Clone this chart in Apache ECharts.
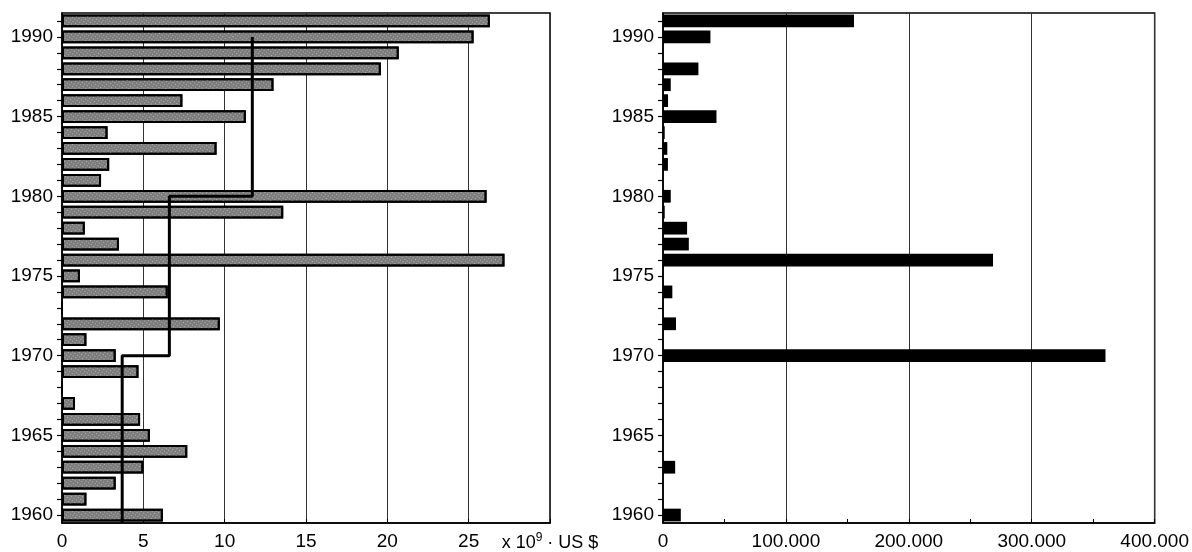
<!DOCTYPE html>
<html>
<head>
<meta charset="utf-8">
<script src="https://cdn.jsdelivr.net/npm/echarts@6/dist/echarts.min.js"></script>
<style>
html,body{margin:0;padding:0;background:#fff;}
#c{width:1192px;height:552px;}
</style>
</head>
<body>
<div id="c"></div>
<script>
// ---- data ----
var years = ['1960','1961','1962','1963','1964','1965','1966','1967','1968','1969',
             '1970','1971','1972','1973','1974','1975','1976','1977','1978','1979',
             '1980','1981','1982','1983','1984','1985','1986','1987','1988','1989',
             '1990','1991'];
// left panel: x 10^9 US $
var leftValues = [6.2,1.5,3.3,5.0,7.7,5.4,4.8,0.8,0,4.7,
                  3.3,1.5,9.7,0,6.5,1.1,27.2,3.5,1.4,13.6,
                  26.1,2.4,2.9,9.5,2.8,11.3,7.4,13.0,19.6,20.7,
                  25.3,26.3];
// decade step line (left panel)
var decadeStart = [1959.5, 1970, 1980];
var decadeEnd   = [1970, 1980, 1990];
var decadeLevel = [3.7, 6.6, 11.7];
// right panel
var rightValues = [14500,0,0,9900,0,0,0,0,0,0,
                   360000,0,10600,0,7600,0,268500,21000,19600,1400,
                   6300,0,4000,3500,1400,43500,4100,6300,28800,0,
                   38600,155400];
var leftTicks = [0,5,10,15,20,25,30];
var rightTicks = [0,100000,200000,300000,400000];

// ---- build ----
var stepData = [];
for (var i = 0; i < decadeLevel.length; i++) {
  stepData.push([decadeLevel[i], decadeStart[i]]);
  stepData.push([decadeLevel[i], decadeEnd[i]]);
}

var FONT = 'Liberation Sans, Arial, sans-serif';
var FS = 19;
var txt = {color:'#000', fontFamily: FONT, fontSize: FS};

function yCat(gridIndex) {
  return {
    type: 'category', gridIndex: gridIndex, data: years, boundaryGap: true,
    axisLine: {show: true, lineStyle: {color: '#000', width: 1.5}},
    axisTick: {show: true, interval: 0, alignWithLabel: true, length: 5, lineStyle: {color: '#000', width: 1.2}},
    axisLabel: Object.assign({
      margin: 9,
      interval: function (idx, val) { return (+val) % 5 === 0; }
    }, txt),
    splitLine: {show: false}
  };
}

var option = {
  animation: false,
  backgroundColor: '#fff',
  grid: [
    {left: 62, top: 13, width: 488, height: 510, show: true, borderColor: '#000', borderWidth: 1.5, backgroundColor: 'transparent'},
    {left: 663, top: 13, width: 492, height: 510, show: true, borderColor: '#000', borderWidth: 1.5, backgroundColor: 'transparent'}
  ],
  xAxis: [
    {
      type: 'value', gridIndex: 0, min: leftTicks[0], max: leftTicks[leftTicks.length-1], interval: 5,
      axisLine: {show: true, lineStyle: {color: '#000', width: 1.5}},
      axisTick: {show: true, inside: true, length: 4, lineStyle: {color: '#000'}},
      splitLine: {show: true, lineStyle: {color: '#333', width: 1}},
      axisLabel: Object.assign({
        margin: 9,
        showMaxLabel: true,
        formatter: function (v) {
          if (v === leftTicks[leftTicks.length-1]) return '{a|x 10}{s|9}{a| · US $}';
          return String(v);
        },
        rich: {
          a: {fontFamily: FONT, fontSize: 18, color: '#000', lineHeight: 22},
          s: {fontFamily: FONT, fontSize: 12, color: '#000', lineHeight: 12, verticalAlign: 'top'}
        }
      }, txt)
    },
    {
      type: 'value', gridIndex: 1, min: rightTicks[0], max: rightTicks[rightTicks.length-1], interval: 100000,
      axisLine: {show: true, lineStyle: {color: '#000', width: 1.5}},
      axisTick: {show: true, inside: true, length: 4, lineStyle: {color: '#000'}},
      minorTick: {show: true, splitNumber: 2, length: 4, lineStyle: {color: '#000'}},
      splitLine: {show: true, lineStyle: {color: '#333', width: 1}},
      axisLabel: Object.assign({
        margin: 9,
        showMaxLabel: true,
        formatter: function (v) {
          return v === 0 ? '0' : String(v).replace(/\B(?=(\d{3})+(?!\d))/g, '.');
        }
      }, txt)
    }
  ],
  yAxis: [
    yCat(0),
    yCat(1),
    {type: 'value', gridIndex: 0, min: 1959.5, max: 1991.5, show: false}
  ],
  series: [
    {
      type: 'bar', xAxisIndex: 0, yAxisIndex: 0, data: leftValues, barWidth: '80%',
      itemStyle: {
        color: '#7c7c7c', borderColor: '#000', borderWidth: 2,
        decal: {symbol: 'rect', symbolSize: 1, color: 'rgba(225,225,225,0.6)', dashArrayX: [1, 2], dashArrayY: [1, 2], rotation: 0.6}
      }
    },
    {
      type: 'line', xAxisIndex: 0, yAxisIndex: 2, data: stepData,
      symbol: 'none', lineStyle: {color: '#000', width: 3}, z: 5
    },
    {
      type: 'bar', xAxisIndex: 1, yAxisIndex: 1, data: rightValues, barWidth: '80%',
      itemStyle: {color: '#000'}
    }
  ]
};

var chart = echarts.init(document.getElementById('c'), null, {renderer: 'canvas'});
chart.setOption(option);
</script>
</body>
</html>
